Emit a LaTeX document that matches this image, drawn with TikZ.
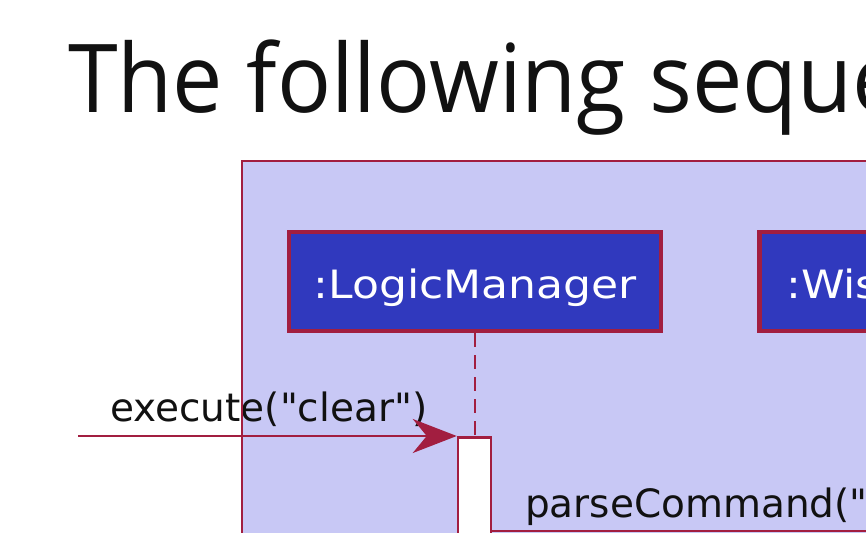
\documentclass[tikz,border=0pt]{standalone}
\usepackage{fontspec}
\setmainfont{DejaVu Sans}[Ligatures=TeXOff]
\newfontfamily\diagfont{DejaVu Sans}[Ligatures=TeXOff]
\newfontfamily\titlefont{Open Sans}
\usetikzlibrary{arrows.meta}
\definecolor{lav}{RGB}{200,200,245}
\definecolor{crim}{RGB}{162,30,64}
\definecolor{boxblue}{RGB}{48,57,190}
\definecolor{inkc}{RGB}{17,17,17}
\begin{document}
\begin{tikzpicture}[x=1pt,y=-1pt,
  dtext/.style={inner sep=0pt, font=\diagfont\fontsize{39}{45}\selectfont, text=inkc},
  objbox/.style={draw=crim, fill=boxblue, line width=4.5pt, minimum height=99pt, inner sep=0pt},
  objtext/.style={inner sep=0pt, font=\diagfont\fontsize{39}{45}\selectfont, text=white},
  actbox/.style={draw=crim, fill=white, line width=2.5pt, minimum width=33pt, minimum height=200pt, inner sep=0pt},
  lifeline/.style={draw=crim, line width=2.5pt, dash pattern=on 14pt off 8pt},
  msg/.style={draw=crim, line width=2.5pt},
  msgarrow/.style={msg, -{Stealth[length=44pt, width=34pt, inset=14pt]}}
]
\useasboundingbox (0,0) rectangle (866,532);
\clip (0,0) rectangle (866,532);
\fill[white] (0,0) rectangle (866,532);
% title
\node[anchor=base west, inner sep=0pt, font=\titlefont\fontsize{95}{110}\selectfont, text=inkc] (title) at (68,113) {\scalebox{0.945}[1]{The following seque}};
% frame fill
\fill[lav] (242,161) rectangle (900,600);
% participants
\node[objbox, minimum width=372pt] (lm) at (475,281.5) {};
\node[objtext, anchor=base] (lmt) at (475,298) {\scalebox{1.13}[1]{:LogicManager}};
\node[objbox, minimum width=300pt, anchor=west] (wis) at (757,281.5) {};
\node[objtext, anchor=base west] (wist) at (786,298) {\scalebox{1.13}[1]{:Wis}};
% activation
\node[actbox, anchor=north] (act) at (474.5,436) {};
% lifeline
\draw[lifeline] (lm.south) -- (lm.south |- act.north);
% execute message
\coordinate (start) at (78,436);
\node[dtext, anchor=base west] (exl) at (110,421) {execute("clear")};
\draw[msgarrow] (start) -- (act.north west);
% parseCommand message
\coordinate (pend) at (900,531);
\draw[msg] (act.east |- pend) -- (pend);
\node[dtext, anchor=base west] (pcl) at (525,517) {parseCommand("};
% frame border
\draw[crim, line width=2.5pt] (242,600) -- (242,161) -- (900,161);
\end{tikzpicture}
\end{document}
